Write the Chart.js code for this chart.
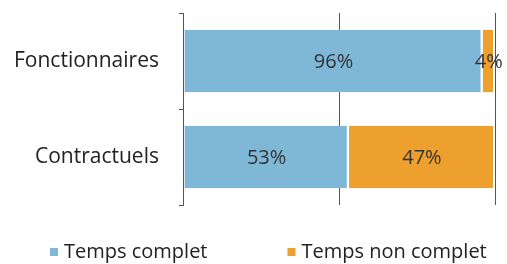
<!DOCTYPE html>
<html>
<head>
<meta charset="utf-8">
<script src="https://cdn.jsdelivr.net/npm/chart.js@4"></script>
<style>
  html, body { margin: 0; padding: 0; background: #fff; }
  #wrap { width: 507px; height: 264px; }
</style>
</head>
<body>
<div id="wrap"><canvas id="chart" width="507" height="264"></canvas></div>
<script>
const categories = ["Fonctionnaires", "Contractuels"];
const seriesNames = ["Temps complet", "Temps non complet"];
const fullTime = [96, 53];
const partTime = [4, 47];
const xTicks = [0, 50, 100];

const colors = ["#7fb8d6", "#eea02f"];
const FONT = "'Open Sans', Lato, sans-serif";

// percent labels centred in each bar segment
const barLabels = {
    id: "barLabels",
    afterDatasetsDraw(chart) {
        const ctx = chart.ctx;
        ctx.save();
        ctx.font = "20px " + FONT;
        ctx.fillStyle = "#333";
        ctx.textAlign = "center";
        ctx.textBaseline = "middle";
        chart.data.datasets.forEach((ds, i) => {
            chart.getDatasetMeta(i).data.forEach((bar, j) => {
                const cx = (bar.x + bar.base) / 2;
                ctx.fillText(ds.data[j] + "%", cx, bar.y + 1);
            });
        });
        ctx.restore();
    }
};

// bottom legend with wide gap between items
const wideLegend = {
    id: "wideLegend",
    afterDraw(chart) {
        const ctx = chart.ctx;
        ctx.save();
        ctx.font = "20px " + FONT;
        ctx.textBaseline = "middle";
        const box = 8, gapBox = 6, gapItem = 80;
        const items = chart.data.datasets.map(ds => ({
            text: ds.label, color: ds.backgroundColor,
            w: box + gapBox + ctx.measureText(ds.label).width
        }));
        let x = 50;
        const y = 252;
        items.forEach(it => {
            ctx.fillStyle = it.color;
            ctx.fillRect(x, y - box / 2, box, box);
            ctx.fillStyle = "#222";
            ctx.fillText(it.text, x + box + gapBox, y);
            x += it.w + gapItem;
        });
        ctx.restore();
    }
};

function drawChart() {
    new Chart(document.getElementById("chart").getContext("2d"), {
        type: "bar",
        data: {
            labels: categories,
            datasets: [
                { label: seriesNames[0], data: fullTime, backgroundColor: colors[0] },
                { label: seriesNames[1], data: partTime, backgroundColor: colors[1] }
            ]
        },
        options: {
            indexAxis: "y",
            responsive: false,
            animation: false,
            datasets: {
                bar: {
                    barPercentage: 0.65,
                    categoryPercentage: 1,
                    borderColor: "#ffffff",
                    borderWidth: { left: 0, right: 2, top: 0, bottom: 0 },
                    borderSkipped: false
                }
            },
            layout: { padding: { left: -6, right: 12, top: 13, bottom: 59 } },
            plugins: {
                legend: { display: false },
                tooltip: { enabled: false }
            },
            scales: {
                x: {
                    stacked: true,
                    min: xTicks[0],
                    max: xTicks[xTicks.length - 1],
                    afterBuildTicks: axis => { axis.ticks = xTicks.map(v => ({ value: v })); },
                    ticks: { display: false },
                    border: { display: false },
                    grid: { color: "#555", lineWidth: 1, drawTicks: false }
                },
                y: {
                    stacked: true,
                    border: { display: true, color: "#555", width: 1 },
                    grid: { offset: true, drawOnChartArea: false, drawTicks: true, tickLength: 5, color: "#555" },
                    ticks: { color: "#222", padding: 20, font: { family: FONT, size: 21 } },
                    afterFit: scale => { scale.paddingTop = 0; scale.paddingBottom = 0; }
                }
            }
        },
        plugins: [barLabels, wideLegend]
    });
}

// make sure the font is ready before Chart.js measures the labels
Promise.all([
    document.fonts.load("21px 'Open Sans'"),
    document.fonts.load("20px 'Open Sans'")
]).then(drawChart, drawChart);
</script>
</body>
</html>
